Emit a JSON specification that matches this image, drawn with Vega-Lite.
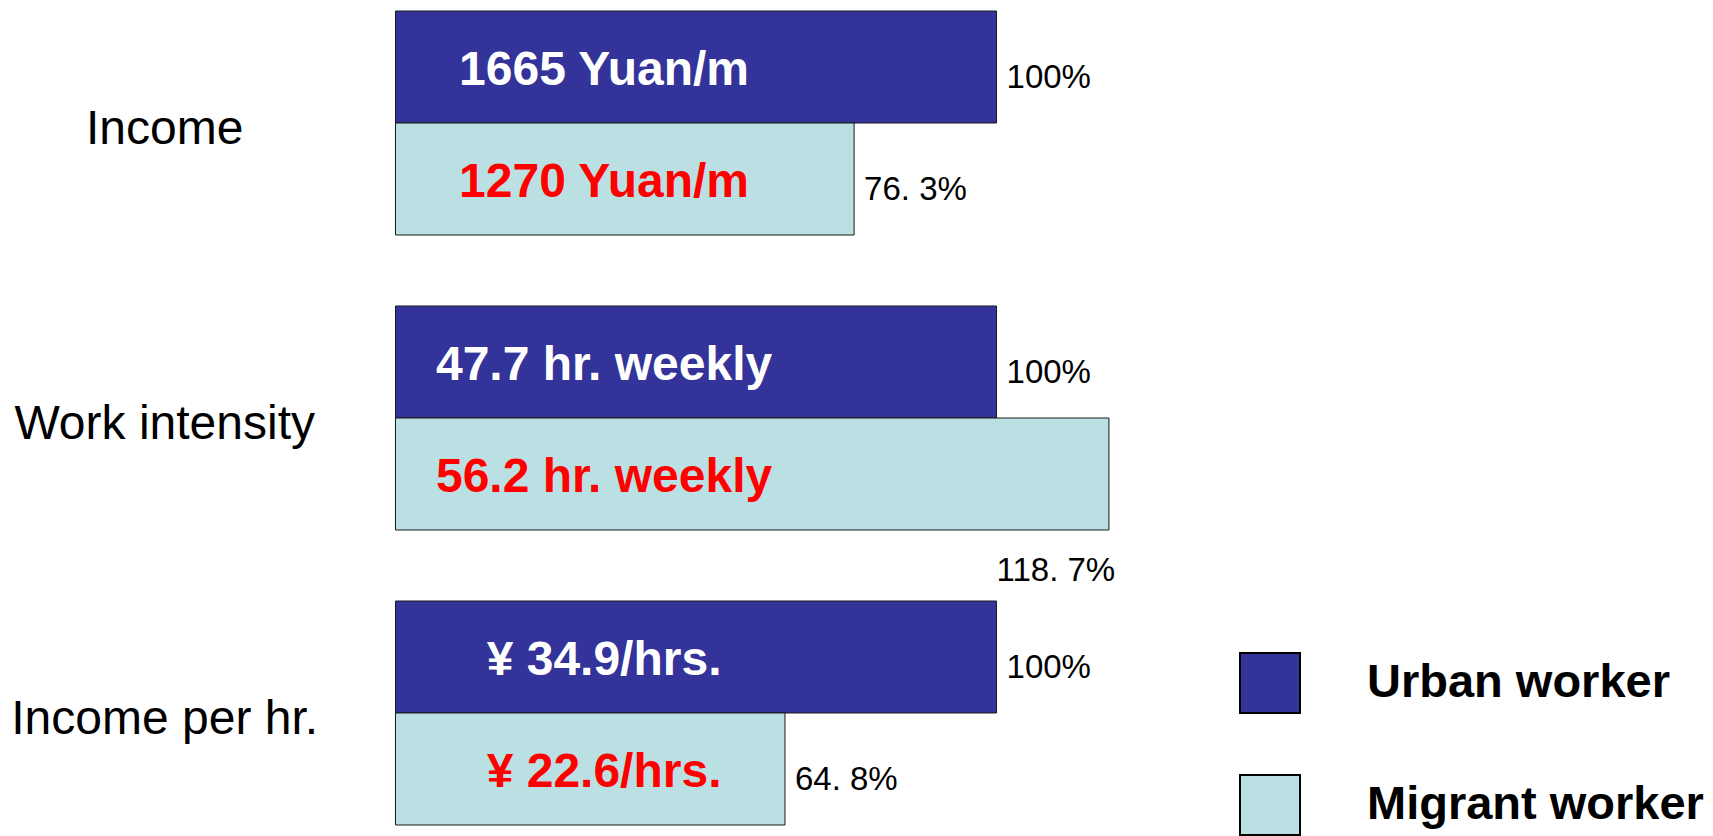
{
  "$schema": "https://vega.github.io/schema/vega-lite/v6.json",
  "width": 1713,
  "height": 836,
  "autosize": {"type": "fit", "contains": "padding"},
  "padding": 0,
  "background": "white",
  "config": {"view": {"stroke": null}, "font": "Liberation Sans"},
  "data": {
    "values": [
      {"category": "Income", "group": "Urban worker", "value_text": "1665 Yuan/m", "pct": 100, "pct_label": "100%"},
      {"category": "Income", "group": "Migrant worker", "value_text": "1270 Yuan/m", "pct": 76.3, "pct_label": "76. 3%"},
      {"category": "Work intensity", "group": "Urban worker", "value_text": "47.7 hr. weekly", "pct": 100, "pct_label": "100%"},
      {"category": "Work intensity", "group": "Migrant worker", "value_text": "56.2 hr. weekly", "pct": 118.7, "pct_label": "118. 7%"},
      {"category": "Income per hr.", "group": "Urban worker", "value_text": "¥ 34.9/hrs.", "pct": 100, "pct_label": "100%"},
      {"category": "Income per hr.", "group": "Migrant worker", "value_text": "¥ 22.6/hrs.", "pct": 64.8, "pct_label": "64. 8%"}
    ]
  },
  "encoding": {
    "y": {
      "field": "category", "type": "nominal",
      "sort": ["Income", "Work intensity", "Income per hr."],
      "scale": {"paddingInner": 0.2407, "paddingOuter": 0.0373},
      "axis": null
    }
  },
  "layer": [
    {
      "mark": {"type": "bar", "stroke": "#1a1a1a", "strokeWidth": 1},
      "encoding": {
        "x": {"field": "pct", "type": "quantitative", "scale": {"domain": [-65.8, 219.2], "nice": false, "zero": false}, "axis": null},
        "x2": {"datum": 0},
        "yOffset": {"field": "group", "type": "nominal", "sort": ["Urban worker", "Migrant worker"], "scale": {"paddingInner": 0, "paddingOuter": 0}},
        "color": {
          "field": "group", "type": "nominal",
          "sort": ["Urban worker", "Migrant worker"],
          "scale": {"domain": ["Urban worker", "Migrant worker"], "range": ["#333399", "#BBE0E3"]},
          "legend": {
            "title": null, "orient": "none", "legendX": 1239, "legendY": 652,
            "padding": 0, "symbolType": "square", "symbolSize": 3600,
            "symbolStrokeColor": "#000000", "symbolStrokeWidth": 2, "symbolOpacity": 1,
            "labelFont": "Liberation Sans", "labelFontSize": 47, "labelFontWeight": "bold",
            "labelColor": "#000000", "labelOffset": 66, "rowPadding": 54, "labelLimit": 500
          }
        }
      }
    },
    {
      "mark": {"type": "text", "align": "center", "baseline": "alphabetic", "dy": 18, "font": "Liberation Sans", "fontSize": 48, "fontWeight": "bold"},
      "encoding": {
        "x": {"datum": 34.7},
        "yOffset": {"field": "group", "type": "nominal", "sort": ["Urban worker", "Migrant worker"]},
        "text": {"field": "value_text"},
        "color": {"condition": {"test": "datum.group === 'Urban worker'", "value": "#FFFFFF"}, "value": "#FF0000"}
      }
    },
    {
      "transform": [{"filter": "datum.pct <= 100"}],
      "mark": {"type": "text", "align": "left", "baseline": "alphabetic", "dx": 10, "dy": 21, "font": "Liberation Sans", "fontSize": 33, "color": "#000000"},
      "encoding": {
        "x": {"field": "pct", "type": "quantitative"},
        "yOffset": {"field": "group", "type": "nominal", "sort": ["Urban worker", "Migrant worker"]},
        "text": {"field": "pct_label"}
      }
    },
    {
      "transform": [{"filter": "datum.pct > 100"}],
      "mark": {"type": "text", "align": "left", "baseline": "alphabetic", "dx": 0, "dy": 107, "font": "Liberation Sans", "fontSize": 33, "color": "#000000"},
      "encoding": {
        "x": {"datum": 100},
        "yOffset": {"field": "group", "type": "nominal", "sort": ["Urban worker", "Migrant worker"]},
        "text": {"field": "pct_label"}
      }
    },
    {
      "transform": [{"filter": "datum.group === 'Urban worker'"}],
      "mark": {"type": "text", "align": "center", "baseline": "middle", "dy": 7, "font": "Liberation Sans", "fontSize": 48, "color": "#000000"},
      "encoding": {
        "x": {"datum": -38.4},
        "text": {"field": "category"}
      }
    }
  ]
}
